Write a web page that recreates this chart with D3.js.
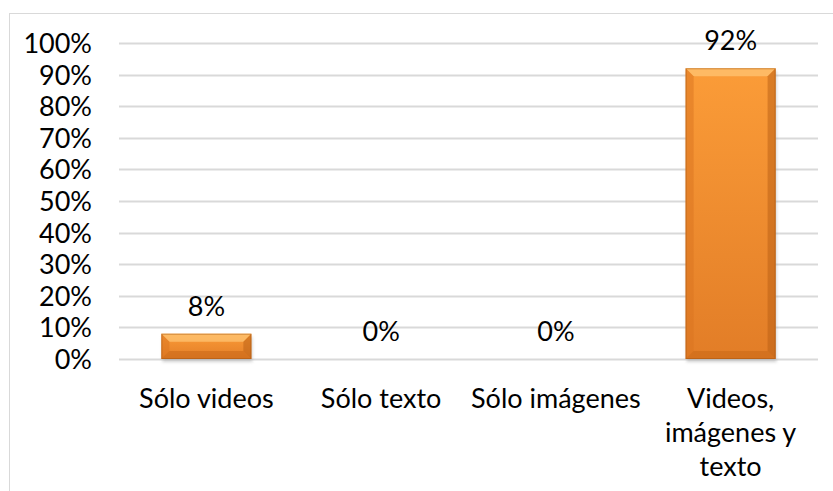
<!DOCTYPE html>
<html>
<head>
<meta charset="utf-8">
<script src="https://cdn.jsdelivr.net/npm/d3@7"></script>
<style>
  html, body { margin: 0; padding: 0; background: #fff; }
  svg { display: block; font-family: Lato, "Open Sans", sans-serif; }
</style>
</head>
<body>
<svg id="chart" width="833" height="491"></svg>
<script>
// Content types and the share of responses for each
const categories = ["Sólo videos", "Sólo texto", "Sólo imágenes", "Videos, imágenes y texto"];
const categoryLines = [["Sólo videos"], ["Sólo texto"], ["Sólo imágenes"], ["Videos,", "imágenes y", "texto"]];
const values = [8, 0, 0, 92];
const tickValues = [0, 10, 20, 30, 40, 50, 60, 70, 80, 90, 100];

const svg = d3.select("#chart");
const W = 833, H = 491;
const plot = { left: 119, right: 818, top: 43, bottom: 359 };
const FS = 27;

// chart area border (runs off the right and bottom edges)
svg.append("rect")
  .attr("x", 9.5).attr("y", 13.5)
  .attr("width", W).attr("height", H)
  .attr("fill", "#fff").attr("stroke", "#d9d9d9").attr("stroke-width", 1);

const x = d3.scaleBand().domain(categories).range([plot.left, plot.right]).paddingInner(0.485).paddingOuter(0.2425);
const y = d3.scaleLinear().domain([0, 100]).range([plot.bottom, plot.top]);

const defs = svg.append("defs");
const face = defs.append("linearGradient").attr("id", "face").attr("x1", 0).attr("y1", 0).attr("x2", 0).attr("y2", 1);
face.append("stop").attr("offset", "0%").attr("stop-color", "#fb9c38");
face.append("stop").attr("offset", "100%").attr("stop-color", "#e27d27");
const shadow = defs.append("filter").attr("id", "shadow").attr("x", "-10%").attr("y", "-10%").attr("width", "120%").attr("height", "130%");
shadow.append("feGaussianBlur").attr("stdDeviation", 1.5);

// gridlines
svg.append("g").selectAll("line").data(tickValues).join("line")
  .attr("x1", plot.left).attr("x2", plot.right)
  .attr("y1", d => Math.round(y(d)) + 0.5).attr("y2", d => Math.round(y(d)) + 0.5)
  .attr("stroke", "#d9d9d9").attr("stroke-width", 2);

// y axis labels
const yAxis = d3.axisLeft(y).tickValues(tickValues).tickFormat(d => d + "%").tickSize(0).tickPadding(0);
const ya = svg.append("g").attr("transform", "translate(92,0)").call(yAxis);
ya.select(".domain").remove();
ya.selectAll("text").attr("font-family", "Lato, sans-serif").attr("font-size", FS).attr("fill", "#000").attr("dy", "0.35em");

// bars with bevelled edges
const bars = svg.append("g").selectAll("g").data(values.map((v, i) => ({ v, c: categories[i] })).filter(d => d.v > 0)).join("g");
bars.each(function(d) {
  const g = d3.select(this);
  const x0 = x(d.c), w = x.bandwidth(), y0 = y(d.v), h = y(0) - y(d.v);
  const b = Math.min(8, h / 3);
  g.append("rect").attr("x", x0 + 1).attr("y", y0 + 3).attr("width", w).attr("height", h)
    .attr("fill", "#9a9a9a").attr("opacity", 0.45).attr("filter", "url(#shadow)");
  g.append("rect").attr("x", x0).attr("y", y0).attr("width", w).attr("height", h).attr("fill", "url(#face)");
  const x1 = x0 + w, y1 = y0 + h;
  const poly = (pts, fill, op) => g.append("polygon").attr("points", pts.map(p => p.join(",")).join(" ")).attr("fill", fill).attr("opacity", op);
  poly([[x0, y0], [x1, y0], [x1 - b, y0 + b], [x0 + b, y0 + b]], "#ffc878", 0.7);
  poly([[x0, y0], [x0 + b, y0 + b], [x0 + b, y1 - b], [x0, y1]], "#d97420", 0.5);
  poly([[x1, y0], [x1, y1], [x1 - b, y1 - b], [x1 - b, y0 + b]], "#b85e14", 0.5);
  poly([[x0, y1], [x0 + b, y1 - b], [x1 - b, y1 - b], [x1, y1]], "#c96818", 0.55);
  g.append("rect").attr("x", x0 + 0.5).attr("y", y0 + 0.5).attr("width", w - 1).attr("height", h - 1)
    .attr("fill", "none").attr("stroke", "#a65510").attr("stroke-opacity", 0.5).attr("stroke-width", 1);
});

// value labels
svg.append("g").selectAll("text").data(values).join("text")
  .attr("x", (d, i) => x(categories[i]) + x.bandwidth() / 2)
  .attr("y", d => y(d) - 18)
  .attr("text-anchor", "middle")
  .attr("font-size", FS).attr("fill", "#000")
  .text(d => d + "%");

// category labels
const cat = svg.append("g").selectAll("text").data(categories).join("text")
  .attr("x", d => x(d) + x.bandwidth() / 2)
  .attr("y", 408)
  .attr("text-anchor", "middle")
  .attr("font-size", FS).attr("fill", "#000");
cat.each(function(d, i) {
  const t = d3.select(this);
  categoryLines[i].forEach((line, k) => {
    t.append("tspan").attr("x", x(d) + x.bandwidth() / 2).attr("dy", k === 0 ? 0 : 34).text(line);
  });
});
</script>
</body>
</html>
